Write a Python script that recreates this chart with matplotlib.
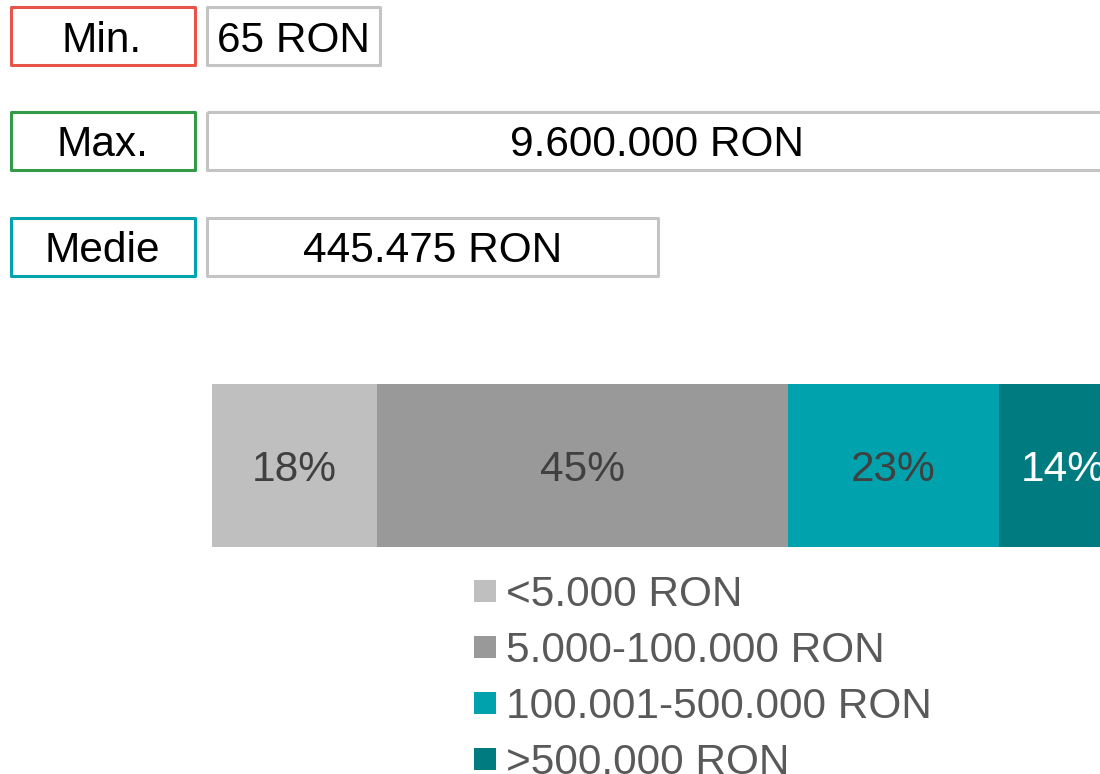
import matplotlib.pyplot as plt
from matplotlib.patches import Rectangle

plt.rcParams['font.family'] = ['Liberation Sans', 'DejaVu Sans']

# Kennzahlen
stat_labels = ["Min.", "Max.", "Medie"]
stat_values = [65, 9600000, 445475]

# Verteilung
categories = ["<5.000 RON", "5.000-100.000 RON", "100.001-500.000 RON", ">500.000 RON"]
shares = [18, 45, 23, 14]

# Layout / Farben
label_colors = ["#E9544A", "#339A48", "#00A3AE"]
box_right = [380, 1112, 658]
row_top = [7, 112, 218]
row_h = 58
bar_colors = ["#BFBFBF", "#999999", "#00A3AD", "#007B80"]
text_colors = ["#404040", "#404040", "#404040", "#FFFFFF"]
fs = 30.5

W, H = 1100, 774
fig = plt.figure(figsize=(W/100, H/100), dpi=100)

# Overlay in Pixelkoordinaten
ax0 = fig.add_axes([0, 0, 1, 1])
ax0.set_xlim(0, W)
ax0.set_ylim(H, 0)
ax0.axis('off')

for i, (lab, val) in enumerate(zip(stat_labels, stat_values)):
    y0 = row_top[i]
    ax0.add_patch(Rectangle((10.5, y0), 184, row_h, fill=False,
                            edgecolor=label_colors[i], lw=2.2, joinstyle='round'))
    ax0.text(102, y0 + row_h/2, lab, fontsize=fs, ha='center', va='center_baseline',
             color='black')
    ax0.add_patch(Rectangle((206.5, y0), box_right[i] - 206.5, row_h, fill=False,
                            edgecolor='#C4C4C4', lw=2.2, joinstyle='round'))
    txt = f"{val:,}".replace(",", ".") + " RON"
    xc = (206.5 + box_right[i]) / 2
    if i == 1:
        xc = 657
    ax0.text(xc, y0 + row_h/2, txt, fontsize=fs, ha='center', va='center_baseline',
             color='black')

# Legende
for i, cat in enumerate(categories):
    yc = 591 + 56*i
    ax0.add_patch(Rectangle((474, yc - 11), 22, 22, color=bar_colors[i], lw=0))
    ax0.text(506, yc, cat, fontsize=fs, ha='left', va='center_baseline', color='#595959')

# Gestapelter Balken
x0, x1 = 212, 1127
ax = fig.add_axes([x0/W, (H - 547)/H, (x1 - x0)/W, 163/H])
left = 0
for i, s in enumerate(shares):
    ax.barh(0, s, left=left, height=1, color=bar_colors[i], lw=0)
    ax.text(left + s/2, 0, f"{s}%", fontsize=fs, ha='center', va='center_baseline',
            color=text_colors[i])
    left += s
ax.set_xlim(0, 100)
ax.set_ylim(-0.5, 0.5)
ax.axis('off')

plt.savefig("out.png", dpi=100)
